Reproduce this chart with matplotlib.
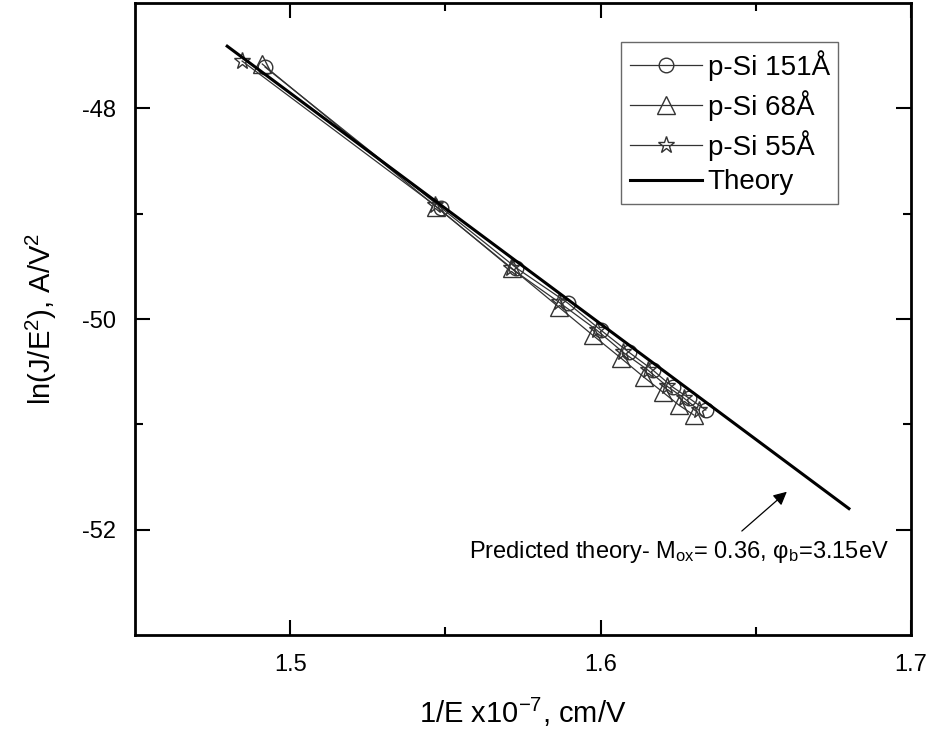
import matplotlib
matplotlib.use("Agg")
import matplotlib.pyplot as plt
import numpy as np

plt.rcParams['font.family'] = ['Liberation Sans', 'DejaVu Sans']
plt.rcParams['mathtext.fontset'] = 'custom'
plt.rcParams['mathtext.rm'] = 'Liberation Sans'
plt.rcParams['mathtext.it'] = 'Liberation Sans:italic'
plt.rcParams['axes.unicode_minus'] = False

# data
x151 = [1.4919, 1.5487, 1.5729, 1.5894, 1.6000, 1.6090, 1.6168, 1.6232, 1.6284, 1.6339]
y151 = [-47.608, -48.946, -49.516, -49.848, -50.104, -50.313, -50.484, -50.646, -50.750, -50.864]

x68 = [1.4910, 1.5471, 1.5713, 1.5865, 1.5974, 1.6065, 1.6139, 1.6200, 1.6252, 1.6300]
y68 = [-47.579, -48.937, -49.516, -49.886, -50.152, -50.370, -50.551, -50.693, -50.817, -50.911]

x55 = [1.4845, 1.5465, 1.5710, 1.5865, 1.5987, 1.6071, 1.6152, 1.6213, 1.6268, 1.6316]
y55 = [-47.551, -48.918, -49.516, -49.839, -50.104, -50.313, -50.484, -50.636, -50.750, -50.864]

x_th = [1.4797, 1.6800]
y_th = [-47.410, -51.800]

fig = plt.figure(figsize=(9.31, 7.33), dpi=100)
ax = fig.add_axes([135/931, 1-635/733, (911-135)/931, (635-3)/733])

mk = dict(color='#333333', lw=0.9, mfc='none', mec='#333333', mew=1.0)
ax.plot(x151, y151, marker='o', ms=10.5, label='p-Si 151Å', **mk)
ax.plot(x68, y68, marker='^', ms=13, label='p-Si 68Å', **mk)
ax.plot(x55, y55, marker='*', ms=12.5, label='p-Si 55Å', **mk)
ax.plot(x_th, y_th, color='black', lw=2.2, label='Theory')

# arrow and note
ax.annotate('', xy=(1.660, -51.64), xytext=(1.6455, -52.013),
            arrowprops=dict(arrowstyle='-|>', color='black', lw=0.9, mutation_scale=20,
                            shrinkA=0, shrinkB=0))
ax.text(1.6252, -52.21, 'Predicted theory- M$_{\\rm ox}$= 0.36, φ$_{\\rm b}$=3.15eV',
        ha='center', va='center', fontsize=17)

ax.set_xlim(1.45, 1.70)
ax.set_ylim(-53, -47)
ax.set_xticks([1.5, 1.6, 1.7])
ax.set_xticks([1.55, 1.65], minor=True)
ax.set_yticks([-48, -50, -52])
ax.set_yticks([-49, -51], minor=True)
ax.tick_params(which='both', direction='in', top=True, right=True, labelsize=17, width=1.5)
ax.tick_params(which='major', length=11, pad=14)
ax.tick_params(which='minor', length=6)
for s in ax.spines.values():
    s.set_linewidth(2)

ax.set_xlabel('1/E x10$^{-7}$, cm/V', fontsize=21, labelpad=14)
ax.set_ylabel('ln(J/E$^{2}$), A/V$^{2}$', fontsize=21, labelpad=16)

leg = ax.legend(loc='upper right', bbox_to_anchor=(838/931, 1-42/733), bbox_transform=fig.transFigure,
                fontsize=20, frameon=True, fancybox=False, handlelength=2.6, handletextpad=0.2,
                borderpad=0.3, labelspacing=0.32, borderaxespad=0)
leg.get_frame().set_edgecolor('#444444')
leg.get_frame().set_linewidth(1.0)

fig.savefig('out.png', dpi=100)
